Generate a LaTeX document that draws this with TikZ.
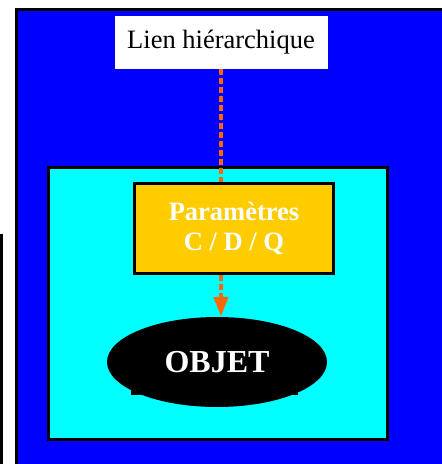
\documentclass[tikz,border=0pt]{standalone}
\usepackage{fontspec}
\setmainfont{Liberation Serif}
\usetikzlibrary{positioning,arrows.meta,shapes.geometric}
\definecolor{bleufond}{RGB}{0,0,255}
\definecolor{cyanfond}{RGB}{0,255,255}
\definecolor{jaunep}{RGB}{255,204,0}
\definecolor{orangel}{RGB}{255,102,0}

\begin{document}
\begin{tikzpicture}[x=1pt,y=-1pt,>=Triangle,
  etiq/.style={fill=white,minimum width=213pt,minimum height=53pt,inner sep=0pt,
    font=\fontsize{26.5}{30}\selectfont},
  param/.style={draw,line width=3pt,fill=jaunep,minimum width=199pt,minimum height=90pt,
    inner sep=0pt,align=center,text=white,font=\fontsize{26.5}{30}\selectfont\bfseries},
  objet/.style={ellipse,fill=black,minimum width=220pt,minimum height=90pt,inner sep=0pt,
    text=white,font=\fontsize{32}{36}\selectfont\bfseries},
  lien/.style={draw=orangel,line width=4.5pt,dash pattern=on 6pt off 3pt},
  fleche/.style={lien,-{Triangle[width=14pt,length=20pt,fill=orangel]}}]
  \useasboundingbox (0,0) rectangle (442,464);
  % blue frame, black edge on top and left
  \fill[black] (15,8) rectangle (442,464);
  \fill[bleufond] (17.5,11) rectangle (442,464);
  \fill[black] (0,234) rectangle (3,464);
  % cyan panel
  \draw[line width=2.7pt,fill=cyanfond] (48.5,167.5) rectangle (387.5,439.5);
  % nodes
  \node[etiq] (lien) at (221,42.5) {Lien hiérarchique};
  \node[param] (par) at (234,228.5) {Paramètres\\C / D / Q};
  \fill[black] (131,340) rectangle (298,395);
  \node[objet] (obj) at (217,362) {OBJET};
  % links
  \draw[lien] (lien.south) -- (lien.south |- par.north);
  \draw[fleche] (lien.south |- par.south) -- (lien.south |- obj.north);
\end{tikzpicture}
\end{document}
